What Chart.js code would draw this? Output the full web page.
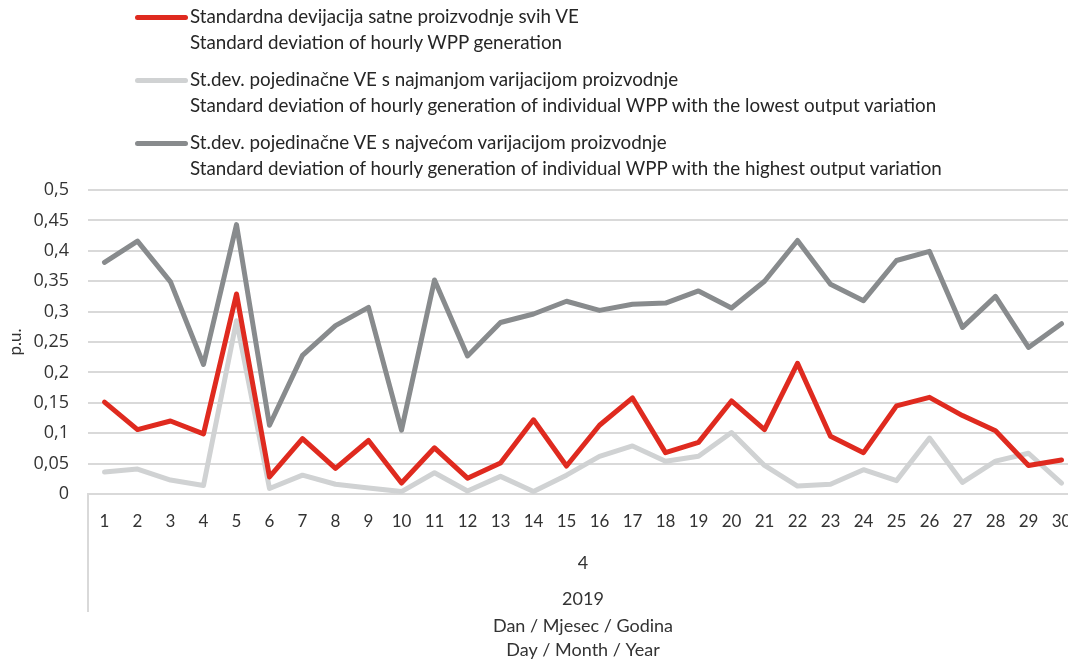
<!DOCTYPE html>
<html>
<head>
<meta charset="utf-8">
<script src="https://cdn.jsdelivr.net/npm/chart.js@4.4.0/dist/chart.umd.min.js"></script>
<style>
html, body { margin: 0; padding: 0; background: #fff; overflow: hidden; }
#wrap { position: relative; width: 1078px; height: 666px; }
#myChart { display: block; width: 1078px; height: 666px; }
#legend { position: absolute; left: 135px; top: 3px; font-family: Lato, sans-serif; font-size: 18.8px; color: #262626; }
.item { display: flex; align-items: flex-start; margin-bottom: 11px; }
.swatch { width: 53px; height: 5px; border-radius: 3px; margin-top: 12px; flex: none; }
.txt { line-height: 26px; padding-left: 2px; white-space: nowrap; }
</style>
</head>
<body>
<div id="wrap">
  <canvas id="myChart" width="1078" height="666"></canvas>
  <div id="legend"></div>
</div>
<script>
const dayLabels = ["1","2","3","4","5","6","7","8","9","10","11","12","13","14","15",
  "16","17","18","19","20","21","22","23","24","25","26","27","28","29","30"];
const monthLabels = ["4"];
const yearLabels = ["2019"];

const allWpp = [0.151, 0.106, 0.120, 0.099, 0.329, 0.028, 0.091, 0.042, 0.088, 0.018,
  0.076, 0.026, 0.051, 0.122, 0.046, 0.113, 0.158, 0.068, 0.085, 0.153,
  0.106, 0.215, 0.095, 0.068, 0.145, 0.159, 0.129, 0.104, 0.047, 0.056];
const lowestWpp = [0.036, 0.041, 0.023, 0.014, 0.285, 0.009, 0.031, 0.016, 0.010, 0.004,
  0.035, 0.005, 0.029, 0.004, 0.031, 0.062, 0.079, 0.054, 0.062, 0.101,
  0.047, 0.013, 0.016, 0.040, 0.022, 0.092, 0.019, 0.054, 0.067, 0.018];
const highestWpp = [0.381, 0.416, 0.349, 0.213, 0.443, 0.113, 0.228, 0.277, 0.307, 0.105,
  0.352, 0.227, 0.282, 0.296, 0.317, 0.302, 0.312, 0.314, 0.334, 0.306,
  0.350, 0.417, 0.345, 0.318, 0.384, 0.399, 0.274, 0.325, 0.241, 0.280];

const seriesNames = [
  ["Standardna devijacija satne proizvodnje svih VE", "Standard deviation of hourly WPP generation"],
  ["St.dev. pojedinačne VE s najmanjom varijacijom proizvodnje", "Standard deviation of hourly generation of individual WPP with the lowest output variation"],
  ["St.dev. pojedinačne VE s najvećom varijacijom proizvodnje", "Standard deviation of hourly generation of individual WPP with the highest output variation"]
];
const seriesColors = ["#DF2A1F", "#D0D2D3", "#888B8D"];

const textColor = "#333333";
const gridColor = "#D9D9D9";
const dayFont = { family: "Lato, sans-serif", size: 17 };
const levelFont = { family: "Lato, sans-serif", size: 18 };
const valueFont = { family: "'Open Sans', sans-serif", size: 18 };

let legend = document.getElementById("legend");
seriesNames.forEach((name, i) => {
  let item = document.createElement("div");
  item.className = "item";
  item.innerHTML = '<span class="swatch" style="background:' + seriesColors[i] + '"></span>' +
    '<span class="txt">' + name[0] + "<br>" + name[1] + "</span>";
  legend.appendChild(item);
});

// vertical separator line of the multi-level category axis
const levelLine = {
  id: "levelLine",
  afterDraw(chart) {
    const ctx = chart.ctx;
    const x3 = chart.scales.x3;
    ctx.save();
    ctx.strokeStyle = gridColor;
    ctx.lineWidth = 2;
    ctx.beginPath();
    ctx.moveTo(chart.chartArea.left, chart.chartArea.bottom);
    ctx.lineTo(chart.chartArea.left, x3.top + 40);
    ctx.stroke();
    ctx.restore();
  }
};

// fixed axis band heights, no side padding for the tick labels
function fitBand(height) {
  return function (scale) {
    scale.height = height;
    scale.paddingLeft = 0;
    scale.paddingRight = 0;
  };
}

const lineStyle = { borderWidth: 5, pointRadius: 0, tension: 0, borderJoinStyle: "round", borderCapStyle: "round", fill: false };

const data = {
  labels: dayLabels,
  datasets: [
    Object.assign({ label: seriesNames[0].join(" "), data: allWpp, borderColor: seriesColors[0], backgroundColor: seriesColors[0] }, lineStyle),
    Object.assign({ label: seriesNames[1].join(" "), data: lowestWpp, borderColor: seriesColors[1], backgroundColor: seriesColors[1] }, lineStyle),
    Object.assign({ label: seriesNames[2].join(" "), data: highestWpp, borderColor: seriesColors[2], backgroundColor: seriesColors[2] }, lineStyle)
  ]
};

const config = {
  type: "line",
  data: data,
  plugins: [levelLine],
  options: {
    responsive: false,
    animation: false,
    devicePixelRatio: 1,
    layout: { padding: { top: 190, left: 0, right: 0, bottom: 0 } },
    plugins: { legend: { display: false }, tooltip: { enabled: false } },
    scales: {
      x: {
        type: "category",
        offset: true,
        weight: 0,
        afterFit: fitBand(40),
        grid: { display: false, drawTicks: false },
        border: { display: true, color: gridColor, width: 2 },
        ticks: { font: dayFont, color: textColor, padding: 17, autoSkip: false, maxRotation: 0 }
      },
      x2: {
        type: "category",
        position: "bottom",
        labels: monthLabels,
        offset: true,
        weight: 1,
        afterFit: fitBand(38),
        grid: { display: false, drawTicks: false },
        border: { display: false },
        ticks: { font: levelFont, color: textColor, padding: 18, maxRotation: 0 }
      },
      x3: {
        type: "category",
        position: "bottom",
        labels: yearLabels,
        offset: true,
        weight: 2,
        afterFit: fitBand(94),
        grid: { display: false, drawTicks: false },
        border: { display: false },
        ticks: { font: levelFont, color: textColor, padding: 16, maxRotation: 0 },
        title: {
          display: true,
          text: ["Dan / Mjesec / Godina", "Day / Month / Year"],
          font: { family: "Lato, sans-serif", size: 18, lineHeight: "24px" },
          color: textColor,
          padding: { top: 4, bottom: 4 }
        }
      },
      y: {
        min: 0,
        max: 0.5,
        afterFit(scale) { scale.width = 88; },
        grid: { color: gridColor, lineWidth: 2, drawTicks: false },
        border: { display: false },
        ticks: {
          stepSize: 0.05,
          font: valueFont,
          color: textColor,
          padding: 19,
          callback: (v) => String(Math.round(v * 100) / 100).replace(".", ",")
        },
        title: {
          display: true,
          text: "p.u.",
          font: { family: "Lato, sans-serif", size: 17 },
          color: textColor,
          padding: { top: 5, bottom: 0 }
        }
      }
    }
  }
};

const newChart = new Chart(document.getElementById("myChart"), config);
</script>
</body>
</html>
